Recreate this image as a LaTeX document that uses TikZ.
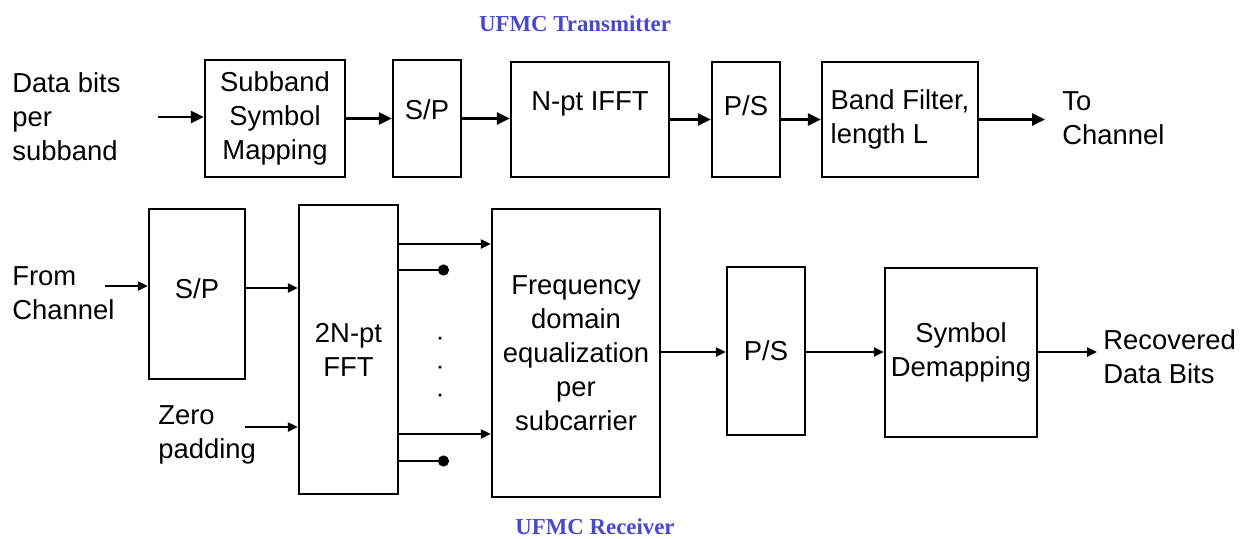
\documentclass[tikz,border=0pt]{standalone}
\usepackage{fontspec}
\setmainfont{Liberation Sans}
\newfontfamily\titlefont{Liberation Serif}
\usetikzlibrary{arrows.meta}
\definecolor{titleblue}{RGB}{72,72,208}

\begin{document}
\begin{tikzpicture}[x=0.02cm,y=-0.02cm,
    every node/.style={font=\fontsize{15.6}{19.4}\selectfont},
    blk/.style={draw,line width=1.4pt,inner sep=0pt,align=center},
    txt/.style={align=left,anchor=west,inner sep=0pt},
    ttl/.style={font=\titlefont\bfseries\fontsize{13}{15}\selectfont,text=titleblue},
    arr/.style={line width=1.4pt,-{Triangle[length=0.26cm,width=0.24cm]}},
    arrs/.style={line width=1.3pt,-{Triangle[length=0.2cm,width=0.18cm]}},
    pin/.style={line width=1.3pt,-{Circle[length=0.22cm]}}]
    \useasboundingbox (0,0) rectangle (1253,538);

    % transmitter
    \node[ttl] (txtitle) at (575,24) {UFMC Transmitter};
    \node[txt] (datain) at (12,117) {Data bits\\per\\subband};
    \coordinate (in1) at (158,117);
    \node[blk,minimum width=2.8cm,minimum height=2.34cm] (map) at (275,118.5) {Subband\\Symbol\\Mapping};
    \node[blk,minimum width=1.36cm,minimum height=2.34cm] (sp1) at (427,118.5) {};
    \node (sp1t) at (427,110) {S/P};
    \node[blk,minimum width=3.16cm,minimum height=2.3cm] (ifft) at (590,119.5) {};
    \node (ifftt) at (590,104) {N-pt IFFT};
    \node[blk,minimum width=1.36cm,minimum height=2.3cm] (ps1) at (746,119.5) {};
    \node (ps1t) at (746,106) {P/S};
    \node[blk,align=left,minimum width=3.12cm,minimum height=2.3cm] (bf) at (900,119.5) {Band Filter,\\length L};
    \coordinate (out1) at (1045,119.5);
    \node[txt] (tochan) at (1062,118) {To\\Channel};

    \draw[arr] (in1) -- (in1 -| map.west);
    \draw[arr] (map.east) -- (map.east -| sp1.west);
    \draw[arr] (sp1.east) -- (sp1.east -| ifft.west);
    \draw[arr] (ifft.east) -- (ifft.east -| ps1.west);
    \draw[arr] (ps1.east) -- (ps1.east -| bf.west);
    \draw[arr] (bf.east) -- (out1);

    % receiver
    \node[ttl] (rxtitle) at (595,527) {UFMC Receiver};
    \node[txt] (fromchan) at (12,293) {From\\Channel};
    \coordinate (in2) at (105,286);
    \node[blk,minimum width=1.92cm,minimum height=3.4cm] (sp2) at (197,294) {};
    \node (sp2t) at (197,289) {S/P};
    \node[txt] (zeropad) at (158,435) {Zero\\padding};
    \coordinate (zp) at (245,427);
    \node[blk,minimum width=1.98cm,minimum height=5.78cm] (fft) at (348.5,349.5) {2N-pt\\FFT};
    \node[blk,minimum width=3.36cm,minimum height=5.76cm] (freq) at (576,353) {Frequency\\domain\\equalization\\per\\subcarrier};
    \node[blk,minimum width=1.56cm,minimum height=3.36cm] (ps2) at (766,351) {P/S};
    \node[blk,minimum width=3.04cm,minimum height=3.38cm] (demap) at (961,352.5) {Symbol\\Demapping};
    \coordinate (out2) at (1097,352);
    \node[txt] (recov) at (1103,357) {Recovered\\Data Bits};

    \coordinate (s2) at (0,288);
    \coordinate (o1) at (0,244);
    \coordinate (d1) at (449,270);
    \coordinate (o2) at (0,434);
    \coordinate (d2) at (449,461);

    \draw[arrs] (in2) -- (in2 -| sp2.west);
    \draw[arrs] (sp2.east |- s2) -- (fft.west |- s2);
    \draw[arrs] (zp) -- (zp -| fft.west);
    \draw[arrs] (fft.east |- o1) -- (freq.west |- o1);
    \draw[pin] (fft.east |- d1) -- (d1);
    \draw[arrs] (fft.east |- o2) -- (freq.west |- o2);
    \draw[pin] (fft.east |- d2) -- (d2);
    \foreach \y in {338,367,395} {
      \fill (440,\y) circle (0.035cm);
    }
    \draw[arrs] (freq.east |- out2) -- (ps2.west |- out2);
    \draw[arrs] (ps2.east |- out2) -- (demap.west |- out2);
    \draw[arrs] (demap.east |- out2) -- (out2);
  \end{tikzpicture}
\end{document}
